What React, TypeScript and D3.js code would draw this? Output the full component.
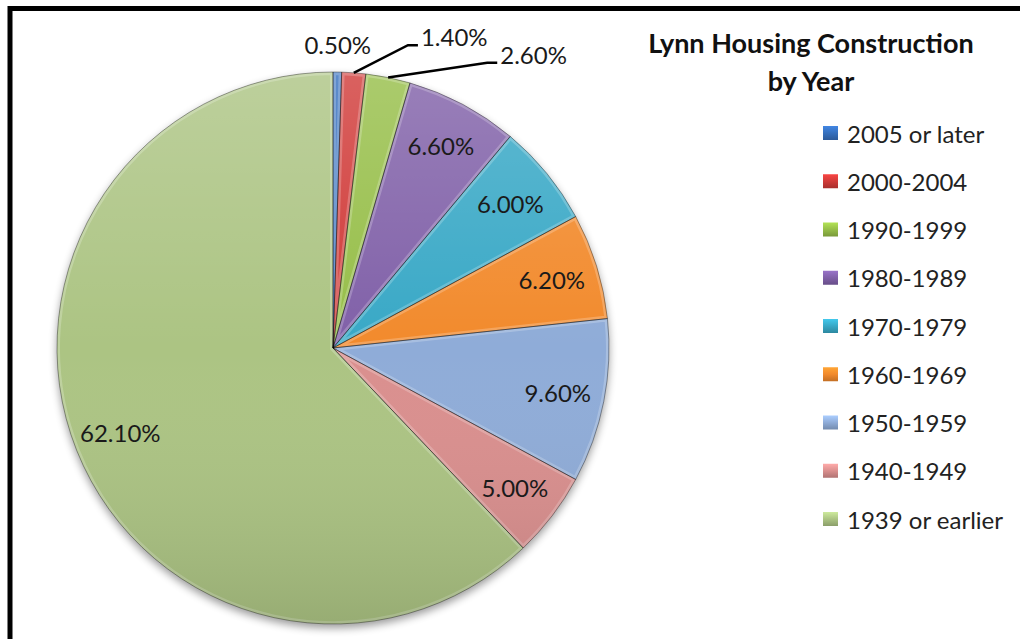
import React from "react";
import * as d3 from "d3";

const categories = [
  "2005 or later",
  "2000-2004",
  "1990-1999",
  "1980-1989",
  "1970-1979",
  "1960-1969",
  "1950-1959",
  "1940-1949",
  "1939 or earlier",
];
const values = [0.5, 1.4, 2.6, 6.6, 6.0, 6.2, 9.6, 5.0, 62.1];
const valueLabels = values.map((v) => v.toFixed(2) + "%");
const titleLines = ["Lynn Housing Construction", "by Year"];

const palette = [
  "#3670BE",
  "#D03A38",
  "#96BE48",
  "#8060A8",
  "#38A8C6",
  "#F28A2C",
  "#8FACD8",
  "#DA8F8E",
  "#ACC483",
];

// outside-label layout (leader elbows in polar coords: radius factor, angle deg)
const outsideLayout: Record<string, { r: number; a?: number; leader: boolean }> = {
  "2005 or later": { r: 1.1, leader: false },
  "2000-2004": { r: 1.13, a: 13.9, leader: true },
  "1990-1999": { r: 1.175, a: 28.4, leader: true },
};

export default function App() {
  const W = 1020;
  const H = 639;
  const cx = 333;
  const cy = 348;
  const R = 276;
  const color = d3.scaleOrdinal<string, string>().domain(categories).range(palette);
  const pie = d3
    .pie<number>()
    .sort(null)
    .value((d) => d)
    .startAngle(0)
    .endAngle(2 * Math.PI);
  const arcs = pie(values);
  const arc = d3.arc<d3.PieArcDatum<number>>().innerRadius(0).outerRadius(R);
  const labelArc = d3
    .arc<d3.PieArcDatum<number>>()
    .innerRadius(R * 0.83)
    .outerRadius(R * 0.83);

  const legendX = 823;
  const legendY0 = 133;
  const legendStep = 48.25;
  const font = "Lato, 'Open Sans', sans-serif";

  const polar = (r: number, a: number) => [r * Math.sin(a), -r * Math.cos(a)];

  return (
    <svg
      width={W}
      height={H}
      style={{ position: "absolute", left: 0, top: 0, background: "#fff" }}
    >
      <defs>
        <linearGradient id="pieShade" x1="0" y1="0" x2="0" y2="1" gradientUnits="objectBoundingBox">
          <stop offset="0" stopColor="#fff" stopOpacity={0.2} />
          <stop offset="0.5" stopColor="#fff" stopOpacity={0} />
          <stop offset="1" stopColor="#000" stopOpacity={0.12} />
        </linearGradient>
        <filter id="shadow" x="-20%" y="-20%" width="140%" height="140%">
          <feGaussianBlur stdDeviation="4" />
        </filter>
        {categories.map((c, i) => (
          <linearGradient key={c} id={`leg${i}`} x1="0" y1="0" x2="0" y2="1">
            <stop offset="0" stopColor={d3.color(color(c))!.brighter(0.5).toString()} />
            <stop offset="0.5" stopColor={color(c)} />
            <stop offset="1" stopColor={d3.color(color(c))!.darker(0.6).toString()} />
          </linearGradient>
        ))}
        {arcs.map((d, i) => (
          <clipPath key={i} id={`clip${i}`}>
            <path d={arc(d) || ""} />
          </clipPath>
        ))}
      </defs>

      {/* frame */}
      <rect x={10} y={8.5} width={W + 20} height={H + 20} fill="none" stroke="#000" strokeWidth={5} />

      <g transform={`translate(${cx},${cy})`}>
        <circle cx={0} cy={4} r={R} fill="#000" opacity={0.4} filter="url(#shadow)" />
        {arcs.map((d, i) => (
          <g key={categories[i]}>
            <path d={arc(d) || ""} fill={color(categories[i])} />
            <path
              d={arc(d) || ""}
              fill="none"
              stroke="#fff"
              strokeOpacity={0.22}
              strokeWidth={6}
              clipPath={`url(#clip${i})`}
            />
          </g>
        ))}
        <circle cx={0} cy={0} r={R} fill="url(#pieShade)" />
        {arcs.map((d, i) => (
          <path
            key={"o" + i}
            d={arc(d) || ""}
            fill="none"
            stroke="#000"
            strokeOpacity={0.4}
            strokeWidth={0.9}
          />
        ))}

        {/* labels */}
        {arcs.map((d, i) => {
          const cat = categories[i];
          const lay = outsideLayout[cat];
          const mid = (d.startAngle + d.endAngle) / 2;
          if (!lay) {
            const [lx, ly] = labelArc.centroid(d);
            return (
              <text
                key={"l" + i}
                x={lx}
                y={ly}
                textAnchor="middle"
                dominantBaseline="central"
                fontFamily={font}
                fontSize={24}
                fill="#1a1a1a"
              >
                {valueLabels[i]}
              </text>
            );
          }
          if (!lay.leader) {
            const [lx, ly] = polar(R * lay.r, mid);
            return (
              <text
                key={"l" + i}
                x={lx}
                y={ly}
                textAnchor="middle"
                dominantBaseline="central"
                fontFamily={font}
                fontSize={24}
                fill="#1a1a1a"
              >
                {valueLabels[i]}
              </text>
            );
          }
          const [sx, sy] = polar(R, mid);
          const [ex, ey] = polar(R * lay.r, ((lay.a || 0) * Math.PI) / 180);
          return (
            <g key={"l" + i}>
              <polyline
                points={`${sx},${sy} ${ex},${ey} ${ex + 10},${ey}`}
                fill="none"
                stroke="#000"
                strokeWidth={2.5}
              />
              <text
                x={ex + 13}
                y={ey + 1}
                textAnchor="start"
                fontFamily={font}
                fontSize={24}
                fill="#1a1a1a"
              >
                {valueLabels[i]}
              </text>
            </g>
          );
        })}
      </g>

      {/* title */}
      <text x={811} y={53} textAnchor="middle" fontFamily={font} fontWeight={700} fontSize={27} fill="#111">
        {titleLines[0]}
      </text>
      <text x={811} y={91} textAnchor="middle" fontFamily={font} fontWeight={700} fontSize={27} fill="#111">
        {titleLines[1]}
      </text>

      {/* legend */}
      {categories.map((c, i) => {
        const y = legendY0 + i * legendStep;
        return (
          <g key={"lg" + i}>
            <rect x={legendX} y={y - 7} width={15} height={14} fill={`url(#leg${i})`} />
            <text
              x={legendX + 24}
              y={y}
              dominantBaseline="central"
              fontFamily={font}
              fontSize={24}
              fill="#222"
            >
              {c}
            </text>
          </g>
        );
      })}
    </svg>
  );
}
